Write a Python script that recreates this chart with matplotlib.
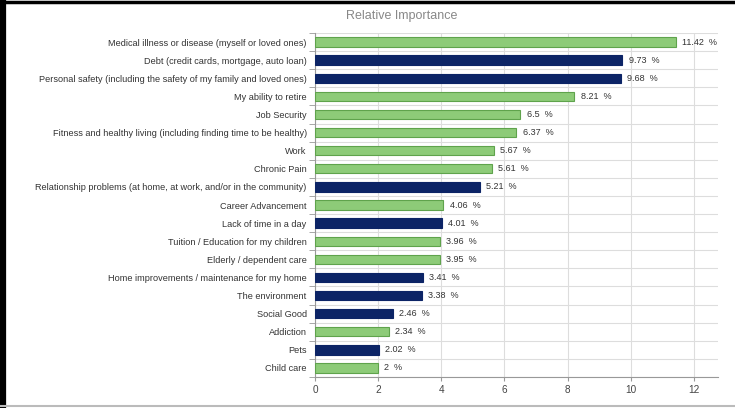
import matplotlib
matplotlib.use('Agg')
import matplotlib.pyplot as plt
from matplotlib.lines import Line2D

categorias = [
    'Medical illness or disease (myself or loved ones)',
    'Debt (credit cards, mortgage, auto loan)',
    'Personal safety (including the safety of my family and loved ones)',
    'My ability to retire',
    'Job Security',
    'Fitness and healthy living (including finding time to be healthy)',
    'Work',
    'Chronic Pain',
    'Relationship problems (at home, at work, and/or in the community)',
    'Career Advancement',
    'Lack of time in a day',
    'Tuition / Education for my children',
    'Elderly / dependent care',
    'Home improvements / maintenance for my home',
    'The environment',
    'Social Good',
    'Addiction',
    'Pets',
    'Child care',
]
valores = [11.42, 9.73, 9.68, 8.21, 6.5, 6.37, 5.67, 5.61, 5.21, 4.06,
           4.01, 3.96, 3.95, 3.41, 3.38, 2.46, 2.34, 2.02, 2]
rotulos = ['11.42', '9.73', '9.68', '8.21', '6.5', '6.37', '5.67', '5.61', '5.21', '4.06',
           '4.01', '3.96', '3.95', '3.41', '3.38', '2.46', '2.34', '2.02', '2']
grupo = ['G', 'N', 'N', 'G', 'G', 'G', 'G', 'G', 'N', 'G',
         'N', 'G', 'G', 'N', 'N', 'N', 'G', 'N', 'G']
ticks_x = [0, 2, 4, 6, 8, 10, 12]

cor = {'G': '#8DCB78', 'N': '#0C2466'}
borda = {'G': '#5FA34C', 'N': '#0C2466'}

plt.rcParams['font.family'] = ['Liberation Sans', 'DejaVu Sans']

fig = plt.figure(figsize=(7.35, 4.08), dpi=100)
ax = fig.add_axes([315 / 735, 1 - 377 / 408, 403 / 735, 344 / 408])

n = len(categorias)
ys = list(range(n))
ax.barh(ys, valores, height=0.52,
        color=[cor[g] for g in grupo],
        edgecolor=[borda[g] for g in grupo], linewidth=0.8, zorder=3)
for y, v, r in zip(ys, valores, rotulos):
    ax.text(v + 0.2, y, f'{r}  %', va='center', ha='left', fontsize=6.5, color='#333333')

ax.set_ylim(n - 0.5, -0.5)
ax.set_xlim(0, 12.76)
ax.set_yticks(ys)
ax.set_yticklabels(categorias, fontsize=6.6, color='#333333')
ax.tick_params(axis='y', length=0, pad=6)
ax.set_yticks([i - 0.5 for i in range(n + 1)], minor=True)
ax.tick_params(axis='y', which='minor', length=4, color='#999999')
ax.set_xticks(ticks_x)
ax.set_xticklabels([str(t) for t in ticks_x], fontsize=7.2, color='#444444')
ax.tick_params(axis='x', length=3, color='#999999', pad=3)

ax.grid(axis='x', color='#DDDDDD', linewidth=0.8, zorder=0)
ax.grid(axis='y', which='minor', color='#DDDDDD', linewidth=0.8, zorder=0)
ax.set_axisbelow(True)
for s in ['top', 'right']:
    ax.spines[s].set_visible(False)
ax.spines['left'].set_color('#999999')
ax.spines['bottom'].set_color('#999999')

fig.text(402 / 735, 1 - 16 / 408, 'Relative Importance', ha='center', va='center',
         fontsize=9, color='#888888')

# moldura da captura
fig.add_artist(Line2D([0, 1], [1 - 2 / 408, 1 - 2 / 408], transform=fig.transFigure,
                      color='black', linewidth=2.5))
fig.add_artist(Line2D([3 / 735, 3 / 735], [0, 1], transform=fig.transFigure,
                      color='black', linewidth=4.5))
fig.add_artist(Line2D([0, 1], [1 - 406 / 408, 1 - 406 / 408], transform=fig.transFigure,
                      color='#BBBBBB', linewidth=1.5))

fig.savefig('out.png', dpi=100)
